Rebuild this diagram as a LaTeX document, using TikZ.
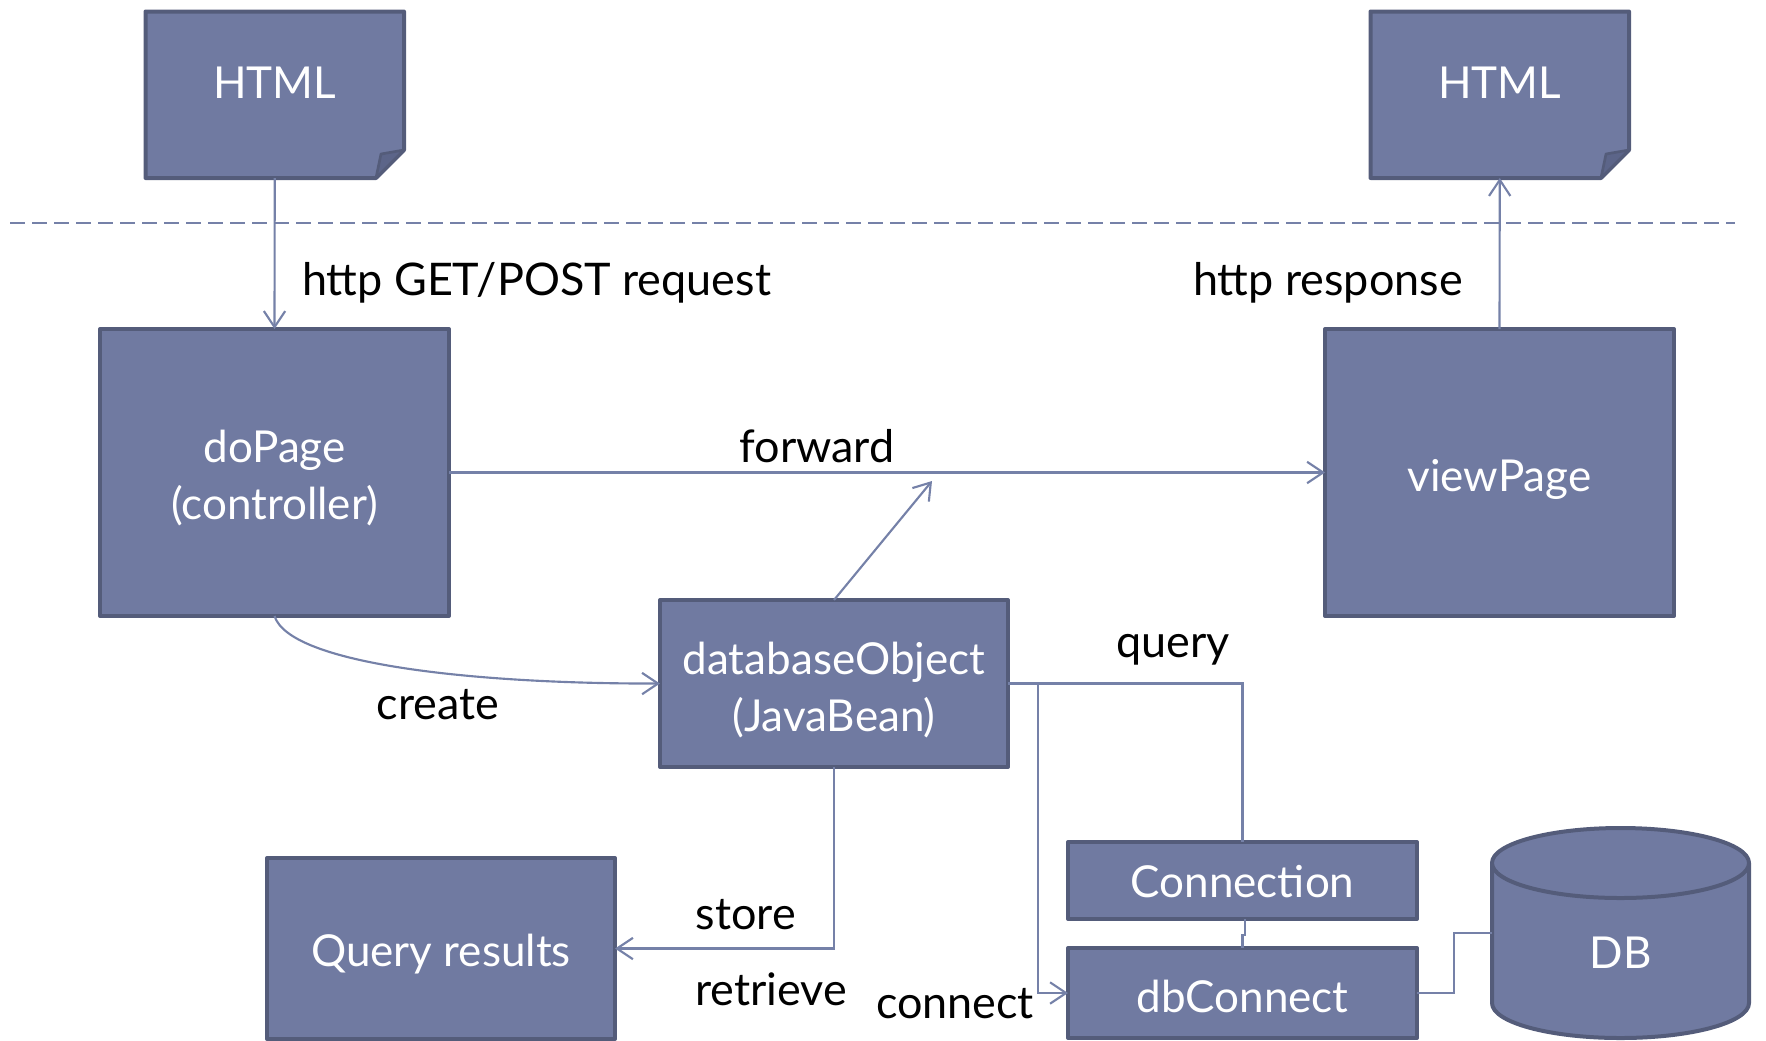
\documentclass[tikz,border=0pt]{standalone}
\usepackage{fontspec}
\setmainfont{Lato}
\usetikzlibrary{arrows.meta}
\definecolor{boxfill}{RGB}{112,122,161}
\definecolor{boxline}{RGB}{84,92,122}
\definecolor{foldfill}{RGB}{92,101,137}
\definecolor{connline}{RGB}{117,129,168}
\tikzset{
  x=0.75pt,y=-0.75pt,
  dim/.style 2 args={minimum width=#1*0.75pt,minimum height=#2*0.75pt},
  box/.style={draw=boxline,fill=boxfill,line width=3pt,line join=round,text=white,align=center,
    inner sep=0pt,outer sep=0pt,font=\fontsize{33}{43}\selectfont},
  shapeline/.style={draw=boxline,fill=boxfill,line width=3pt,line join=round},
  foldline/.style={draw=boxline,fill=foldfill,line width=2pt,line join=round},
  plainbox/.style={text=white,align=center,inner sep=0pt,outer sep=0pt,font=\fontsize{33}{43}\selectfont},
  conn/.style={draw=connline,line width=1.6pt},
  arr/.style={conn,-{Straight Barb[length=12pt,width=16pt,line width=1.6pt]}},
  lab/.style={text=black,anchor=base,inner sep=0pt,font=\fontsize{33.7}{43}\selectfont},
}
\begin{document}
\begin{tikzpicture}
\useasboundingbox (0,0) rectangle (1766,1040);
\clip (0,0) rectangle (1766,1040);
% dashed separator
\coordinate (dashL) at (10,223);
\coordinate (dashR) at (1735,223);
\draw[conn,dash pattern=on 11pt off 5.5pt] (dashL) -- (dashR);
% HTML documents
\path[shapeline] (145.5,11.5) -- (404,11.5) -- (404,150) -- (376,178) -- (145.5,178) -- cycle;
\path[foldline] (376,178) -- (381,154) -- (404,150) -- cycle;
\node[plainbox,dim={258.5}{166.5},text height=5pt,text depth=0pt] (html1) at (274.75,94.75) {HTML};
\path[shapeline] (1370.5,11.5) -- (1629,11.5) -- (1629,150) -- (1601,178) -- (1370.5,178) -- cycle;
\path[foldline] (1601,178) -- (1606,154) -- (1629,150) -- cycle;
\node[plainbox,dim={258.5}{166.5},text height=5pt,text depth=0pt] (html2) at (1499.75,94.75) {HTML};
% boxes
\node[box,dim={349}{287},text height=78.4pt,text depth=8pt] (dopage) at (274.5,472.5) {doPage\\(controller)};
\node[box,dim={349}{287},text height=28pt,text depth=0pt] (viewpage) at (1499.5,472.5) {viewPage};
\node[box,dim={348}{167},text height=80pt,text depth=8pt] (dbo) at (834,683.5) {databaseObject\\(JavaBean)};
\node[box,dim={348}{181},text height=26.25pt,text depth=0pt] (results) at (441,948.5) {Query results};
\node[box,dim={349}{77},text height=26pt,text depth=0pt] (connection) at (1242.5,880.5) {Connection};
\node[box,dim={349}{90},text height=29pt,text depth=0pt] (dbconnect) at (1242.5,993) {dbConnect};
% cylinder
\path[shapeline] (1492,863) -- (1492,1003) arc[start angle=180,end angle=0,x radius=128.5,y radius=35] -- (1749,863) -- cycle;
\path[shapeline] (1620.5,863) ellipse[x radius=128.5,y radius=35];
\node[plainbox,dim={257}{140},text height=52.5pt,text depth=0pt] (db) at (1620.5,933) {DB};
% connectors
\draw[arr] (html1.south) -- (dopage.north);
\draw[arr] (viewpage.north) -- (html2.south);
\draw[arr] (dopage.east) -- (viewpage.west);
\coordinate (fwdtip) at (932,481);
\draw[arr] (dbo.north) -- (fwdtip);
\draw[arr] (dopage.south) .. controls (290,665) and (480,684) .. (dbo.west);
\draw[conn] (dbo.east) -| (connection.north);
\draw[arr] (dbo.east) -- (1038,683.5) |- (dbconnect.west);
\draw[arr] (dbo.south) |- (results.east);
\draw[conn] (connection.south) ++(2.5,0) -- ++(0,16) -- ++(-2.5,0) -- (dbconnect.north);
\draw[conn] (dbconnect.east) -- (1454,993) -- (1454,933) -- (db.west);
% labels
\node[lab] (lget) at (536.5,295) {http GET/POST request};
\node[lab] (lresp) at (1328,295) {http response};
\node[lab] (lfwd) at (817,462) {forward};
\node[lab] (lcreate) at (438,719) {create};
\node[lab] (lquery) at (1173,657) {query};
\node[lab] (lstore) at (746,929) {store};
\node[lab] (lretr) at (771,1005) {retrieve};
\node[lab] (lconn) at (955,1018) {connect};
\end{tikzpicture}
\end{document}
